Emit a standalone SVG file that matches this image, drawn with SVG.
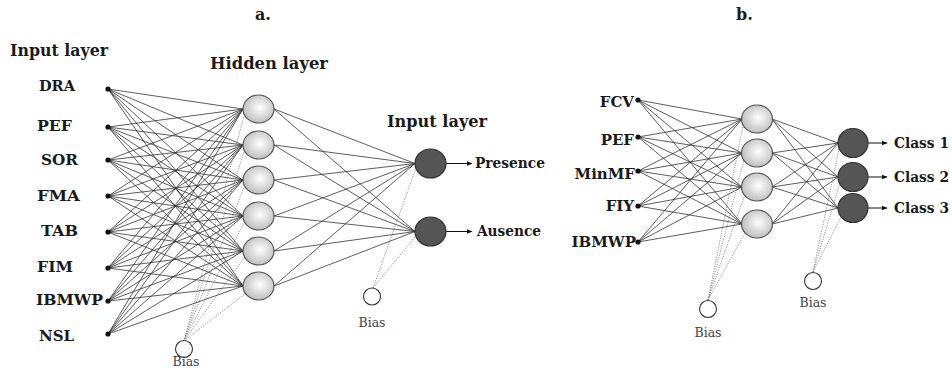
<svg xmlns="http://www.w3.org/2000/svg" width="952" height="371" viewBox="0 0 952 371">
  <defs>
    <radialGradient id="hid" cx="0.55" cy="0.45" r="0.6">
      <stop offset="0" stop-color="#ffffff"/>
      <stop offset="1" stop-color="#b9b9b9"/>
    </radialGradient>
    <marker id="arr" viewBox="0 0 10 10" refX="9" refY="5" markerWidth="6" markerHeight="6" markerUnits="userSpaceOnUse" orient="auto">
      <path d="M0,1 L10,5 L0,9 z" fill="#111"/>
    </marker>
  </defs>
  <style>
    .w { stroke: #333; stroke-width: 0.8; fill: none; }
    .bw { stroke: #666; stroke-width: 0.7; stroke-dasharray: 1.2 1.2; fill: none; }
    .out { stroke: #111; stroke-width: 1; fill: none; marker-end: url(#arr); }
    .hid { fill: url(#hid); stroke: #555; stroke-width: 1.2; }
    .opn { fill: #555; stroke: #333; stroke-width: 1.2; }
    .bias { fill: #fff; stroke: #333; stroke-width: 1.1; }
    .dot { fill: #111; }
    text { font-family: 'DejaVu Serif', 'Liberation Serif', serif; }
    .h { font-weight: bold; font-size: 16px; fill: #1a1a1a; }
    .lbl { font-weight: bold; font-size: 15px; fill: #1a1a1a; }
    .r { text-anchor: end; }
    .bt { font-size: 12.5px; fill: #444; text-anchor: middle; }
  </style>
  <rect width="952" height="371" fill="#fff"/>

  <!-- panel titles -->
  <text class="h" x="255" y="20" font-size="15">a.</text>
  <text class="h" x="736" y="20" font-size="15">b.</text>

  <!-- layer headings -->
  <text class="h" x="10" y="56" textLength="98" lengthAdjust="spacingAndGlyphs">Input layer</text>
  <text class="h" x="210" y="69" textLength="118" lengthAdjust="spacingAndGlyphs">Hidden layer</text>
  <text class="h" x="387" y="127" textLength="100" lengthAdjust="spacingAndGlyphs">Input layer</text>

  <!-- connectors -->
  <g id="connectors">
    <!-- a: inputs to hidden -->
    <g id="a-in-hid">
      <path class="w" d="M108,89 L243,109 M108,89 L243,145 M108,89 L243,180 M108,89 L243,216 M108,89 L243,251 M108,89 L243,286"/>
      <path class="w" d="M108,127 L243,109 M108,127 L243,145 M108,127 L243,180 M108,127 L243,216 M108,127 L243,251 M108,127 L243,286"/>
      <path class="w" d="M108,160 L243,109 M108,160 L243,145 M108,160 L243,180 M108,160 L243,216 M108,160 L243,251 M108,160 L243,286"/>
      <path class="w" d="M108,196 L243,109 M108,196 L243,145 M108,196 L243,180 M108,196 L243,216 M108,196 L243,251 M108,196 L243,286"/>
      <path class="w" d="M108,232 L243,109 M108,232 L243,145 M108,232 L243,180 M108,232 L243,216 M108,232 L243,251 M108,232 L243,286"/>
      <path class="w" d="M108,268 L243,109 M108,268 L243,145 M108,268 L243,180 M108,268 L243,216 M108,268 L243,251 M108,268 L243,286"/>
      <path class="w" d="M108,301 L243,109 M108,301 L243,145 M108,301 L243,180 M108,301 L243,216 M108,301 L243,251 M108,301 L243,286"/>
      <path class="w" d="M108,334 L243,109 M108,334 L243,145 M108,334 L243,180 M108,334 L243,216 M108,334 L243,251 M108,334 L243,286"/>
    </g>
    <!-- a: hidden to outputs -->
    <g id="a-hid-out">
      <path class="w" d="M274,109 L415,163.5 M274,145 L415,163.5 M274,180 L415,163.5 M274,216 L415,163.5 M274,251 L415,163.5 M274,286 L415,163.5"/>
      <path class="w" d="M274,109 L415,231.5 M274,145 L415,231.5 M274,180 L415,231.5 M274,216 L415,231.5 M274,251 L415,231.5 M274,286 L415,231.5"/>
    </g>
    <!-- a: bias links -->
    <g id="a-bias">
      <path class="bw" d="M184,341 L244,116 M184,341 L244,152 M184,341 L244,187 M184,341 L244,223 M184,341 L244,258 M184,341 L246,293"/>
      <path class="bw" d="M373,288 L416,168 M373,288 L416,236"/>
    </g>
    <!-- a: output arrows -->
    <path class="out" d="M446,163.5 L472,163.5"/>
    <path class="out" d="M446,231.5 L472,231.5"/>

    <!-- b: inputs to hidden -->
    <g id="b-in-hid">
      <path class="w" d="M638,100 L742,119 M638,100 L742,153 M638,100 L742,187 M638,100 L742,224"/>
      <path class="w" d="M638,137 L742,119 M638,137 L742,153 M638,137 L742,187 M638,137 L742,224"/>
      <path class="w" d="M638,171 L742,119 M638,171 L742,153 M638,171 L742,187 M638,171 L742,224"/>
      <path class="w" d="M638,206 L742,119 M638,206 L742,153 M638,206 L742,187 M638,206 L742,224"/>
      <path class="w" d="M638,242 L742,119 M638,242 L742,153 M638,242 L742,187 M638,242 L742,224"/>
    </g>
    <!-- b: hidden to outputs -->
    <g id="b-hid-out">
      <path class="w" d="M772,119 L838,143 M772,153 L838,143 M772,187 L838,143 M772,224 L838,143"/>
      <path class="w" d="M772,119 L838,177 M772,153 L838,177 M772,187 L838,177 M772,224 L838,177"/>
      <path class="w" d="M772,119 L838,208 M772,153 L838,208 M772,187 L838,208 M772,224 L838,208"/>
    </g>
    <!-- b: bias links -->
    <g id="b-bias">
      <path class="bw" d="M708,300 L743,126 M708,300 L744,160 M708,300 L745,194 M708,300 L746,231"/>
      <path class="bw" d="M813,272 L839,149 M813,272 L840,183 M813,272 L842,215"/>
    </g>
    <!-- b: output arrows -->
    <path class="out" d="M868,143 L887,143"/>
    <path class="out" d="M868,177 L887,177"/>
    <path class="out" d="M868,208 L887,208"/>
  </g>

  <!-- panel a: input nodes -->
  <g id="a-in-DRA"><circle class="dot" cx="108" cy="89" r="2.6"/><text class="lbl" x="39" y="91" font-size="13" textLength="36" lengthAdjust="spacingAndGlyphs">DRA</text></g>
  <g id="a-in-PEF"><circle class="dot" cx="108" cy="127" r="2.6"/><text class="lbl" x="37" y="131" textLength="35" lengthAdjust="spacingAndGlyphs">PEF</text></g>
  <g id="a-in-SOR"><circle class="dot" cx="108" cy="160" r="2.6"/><text class="lbl" x="41" y="165" textLength="37" lengthAdjust="spacingAndGlyphs">SOR</text></g>
  <g id="a-in-FMA"><circle class="dot" cx="108" cy="196" r="2.6"/><text class="lbl" x="37" y="201" textLength="43" lengthAdjust="spacingAndGlyphs">FMA</text></g>
  <g id="a-in-TAB"><circle class="dot" cx="108" cy="232" r="2.6"/><text class="lbl" x="41" y="236" textLength="37" lengthAdjust="spacingAndGlyphs">TAB</text></g>
  <g id="a-in-FIM"><circle class="dot" cx="108" cy="268" r="2.6"/><text class="lbl" x="37" y="272" textLength="36" lengthAdjust="spacingAndGlyphs">FIM</text></g>
  <g id="a-in-IBMWP"><circle class="dot" cx="108" cy="301" r="2.6"/><text class="lbl" x="36" y="305" textLength="67" lengthAdjust="spacingAndGlyphs">IBMWP</text></g>
  <g id="a-in-NSL"><circle class="dot" cx="108" cy="334" r="2.6"/><text class="lbl" x="39" y="341" textLength="35" lengthAdjust="spacingAndGlyphs">NSL</text></g>

  <!-- panel a: hidden nodes -->
  <g id="a-h1"><ellipse class="hid" cx="258.5" cy="109" rx="15.5" ry="14"/></g>
  <g id="a-h2"><ellipse class="hid" cx="258.5" cy="145" rx="15.5" ry="14"/></g>
  <g id="a-h3"><ellipse class="hid" cx="258.5" cy="180" rx="15.5" ry="14"/></g>
  <g id="a-h4"><ellipse class="hid" cx="258.5" cy="216" rx="15.5" ry="14"/></g>
  <g id="a-h5"><ellipse class="hid" cx="258.5" cy="251" rx="15.5" ry="14"/></g>
  <g id="a-h6"><ellipse class="hid" cx="258.5" cy="286" rx="15.5" ry="14"/></g>

  <!-- panel a: outputs -->
  <g id="a-out-presence"><ellipse class="opn" cx="430.5" cy="163.5" rx="15.5" ry="14.5"/><text class="lbl" x="475" y="168" textLength="70" lengthAdjust="spacingAndGlyphs">Presence</text></g>
  <g id="a-out-ausence"><ellipse class="opn" cx="430.5" cy="231.5" rx="15.5" ry="14.5"/><text class="lbl" x="477" y="236" textLength="64" lengthAdjust="spacingAndGlyphs">Ausence</text></g>

  <!-- panel a: bias nodes -->
  <g id="a-bias-hidden"><circle class="bias" cx="184" cy="349" r="8.5"/><text class="bt" x="186" y="366" font-size="11.5">Bias</text></g>
  <g id="a-bias-output"><circle class="bias" cx="372" cy="296.5" r="8.5"/><text class="bt" x="372" y="327">Bias</text></g>

  <!-- panel b: input nodes -->
  <g id="b-in-FCV"><circle class="dot" cx="638" cy="100" r="2.6"/><text class="lbl r" x="634" y="107">FCV</text></g>
  <g id="b-in-PEF"><circle class="dot" cx="638" cy="137" r="2.6"/><text class="lbl r" x="634" y="145">PEF</text></g>
  <g id="b-in-MinMF"><circle class="dot" cx="638" cy="171" r="2.6"/><text class="lbl r" x="635" y="179">MinMF</text></g>
  <g id="b-in-FIY"><circle class="dot" cx="638" cy="206" r="2.6"/><text class="lbl r" x="634" y="211">FIY</text></g>
  <g id="b-in-IBMWP"><circle class="dot" cx="638" cy="242" r="2.6"/><text class="lbl r" x="636" y="247">IBMWP</text></g>

  <!-- panel b: hidden nodes -->
  <g id="b-h1"><ellipse class="hid" cx="757" cy="119" rx="15.5" ry="14"/></g>
  <g id="b-h2"><ellipse class="hid" cx="757" cy="153" rx="15.5" ry="14"/></g>
  <g id="b-h3"><ellipse class="hid" cx="757" cy="187" rx="15.5" ry="14"/></g>
  <g id="b-h4"><ellipse class="hid" cx="757" cy="224" rx="15.5" ry="14"/></g>

  <!-- panel b: outputs -->
  <g id="b-out-c1"><ellipse class="opn" cx="853" cy="143" rx="15" ry="14.5"/><text class="lbl" x="894" y="148" textLength="55" lengthAdjust="spacingAndGlyphs">Class 1</text></g>
  <g id="b-out-c2"><ellipse class="opn" cx="853" cy="177" rx="15" ry="14.5"/><text class="lbl" x="894" y="182" textLength="55" lengthAdjust="spacingAndGlyphs">Class 2</text></g>
  <g id="b-out-c3"><ellipse class="opn" cx="853" cy="208" rx="15" ry="14.5"/><text class="lbl" x="894" y="213" textLength="55" lengthAdjust="spacingAndGlyphs">Class 3</text></g>

  <!-- panel b: bias nodes -->
  <g id="b-bias-hidden"><circle class="bias" cx="708" cy="309" r="8.5"/><text class="bt" x="708" y="337">Bias</text></g>
  <g id="b-bias-output"><circle class="bias" cx="813" cy="281" r="8.5"/><text class="bt" x="813" y="307">Bias</text></g>
</svg>
